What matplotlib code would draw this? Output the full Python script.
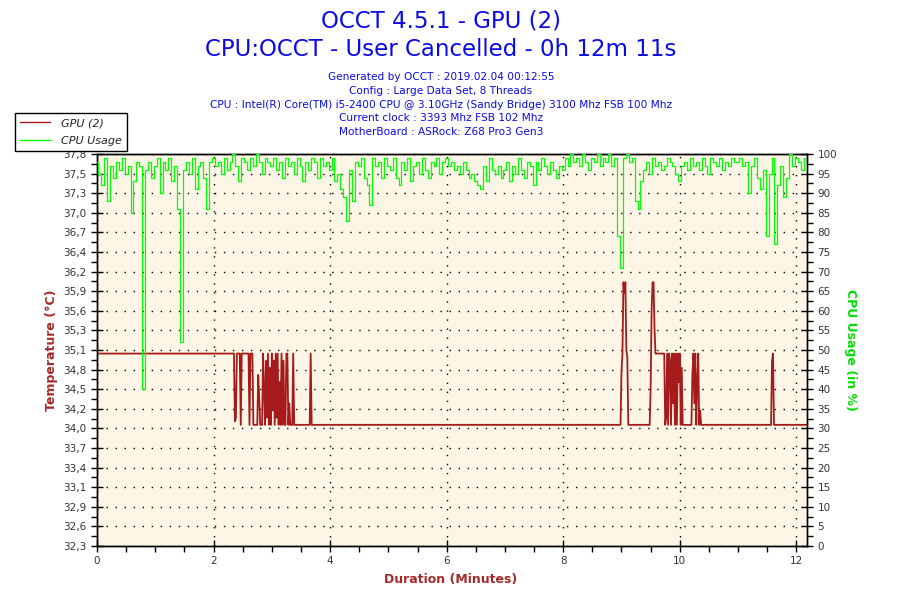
import numpy as np
import matplotlib
matplotlib.use("Agg")
import matplotlib.pyplot as plt
from matplotlib.lines import Line2D

# --- data ---
# GPU temperature: (seconds, degC) change points
temp_sec = [0, 141, 142, 143, 144, 147, 148, 149, 156, 157, 158, 160, 161, 165, 166, 167, 168,
            170, 171, 172, 173, 174, 175, 176, 177, 178, 179, 180, 181, 182, 183, 184, 185,
            186, 187, 188, 189, 190, 191, 192, 193, 194, 195, 196, 197, 198, 199, 201, 202,
            203, 219, 220, 221,
            539, 540, 541, 542, 543, 544, 545, 546, 547,
            569, 570, 571, 572, 573, 574, 575,
            584, 585, 586, 587, 588, 589, 590, 591, 592, 593, 594, 595, 596, 597, 598, 599,
            600, 601, 602, 603,
            612, 613, 614, 615, 616, 617, 618, 619, 620, 621, 622,
            694, 695, 696, 697, 731]
temp_val = [35.0, 35.0, 34.05, 34.1, 35.0, 35.0, 34.0, 35.0, 35.0, 34.0, 35.0, 35.0, 34.0, 34.0, 34.7, 34.4, 34.0,
            34.0, 35.0, 34.5, 34.0, 34.9, 34.1, 35.0, 34.0, 34.8, 34.0, 35.0, 34.2, 34.9, 34.0, 35.0, 34.1,
            35.0, 34.0, 34.6, 34.0, 35.0, 34.0, 34.9, 34.0, 34.0, 35.0, 35.0, 34.0, 34.3, 34.0, 34.0, 35.0,
            34.0, 34.0, 35.0, 34.0,
            34.0, 34.75, 35.0, 36.0, 35.85, 36.0, 35.05, 34.95, 34.0,
            34.0, 34.5, 35.6, 36.0, 36.0, 35.35, 35.0,
            35.0, 34.0, 34.1, 35.0, 34.0, 35.0, 34.9, 34.0, 35.0, 34.3, 35.0, 34.0, 35.0, 34.0, 35.0, 34.6,
            35.0, 34.0, 34.8, 34.0,
            34.0, 34.7, 35.0, 34.3, 35.0, 34.0, 34.6, 35.0, 34.0, 34.2, 34.0,
            34.0, 34.9, 35.0, 34.0, 34.0]

# CPU usage in %, one value every 3 seconds
cpu_step_sec = 3
cpu_usage = [
    98, 95, 92, 99, 88, 97, 94, 98, 96, 99, 95, 97, 85, 93, 98, 97, 40, 96, 98, 94,
    97, 99, 90, 98, 96, 99, 93, 97, 86, 52, 96, 98, 95, 99, 91, 97, 98, 94, 86, 98,
    99, 97, 98, 95, 99, 96, 98, 100, 97, 93, 99, 98, 96, 99, 97, 100, 98, 95, 99, 98,
    97, 99, 96, 98, 94, 99, 97, 98, 95, 99, 97, 93, 98, 96, 99, 98, 94, 99, 97, 98,
    96, 99, 93, 95, 91, 89, 83, 96, 88, 98, 97, 99, 94, 92, 87, 99, 97, 98, 94, 99,
    97, 96, 99, 94, 92, 98, 96, 99, 93, 97, 98, 95, 99, 96, 94, 98, 97, 99, 95, 98,
    99, 97, 98, 96, 97, 95, 98, 96, 94, 95, 93, 92, 91, 97, 93, 99, 96, 95, 97, 94,
    96, 98, 93, 97, 95, 99, 96, 94, 98, 97, 92, 98, 96, 99, 97, 95, 98, 96, 94, 97,
    96, 99, 97, 100, 98, 99, 97, 100, 98, 96, 99, 98, 100, 97, 99, 98, 100, 97, 99, 79,
    71, 99, 100, 98, 99, 88, 86, 93, 96, 98, 95, 99, 97, 98, 96, 97, 99, 98, 97, 95,
    93, 97, 98, 96, 99, 97, 98, 96, 99, 97, 95, 99, 98, 97, 99, 96, 98, 97, 99, 98,
    98, 99, 97, 98, 90, 97, 99, 94, 91, 96, 79, 95, 99, 77, 92, 97, 89, 94, 100, 97,
    99, 98, 96, 99,
]

temp_ticklabels = ['32,3', '32,6', '32,9', '33,1', '33,4', '33,7', '34,0', '34,2', '34,5', '34,8', '35,1',
                   '35,3', '35,6', '35,9', '36,2', '36,4', '36,7', '37,0', '37,3', '37,5', '37,8']
cpu_ticks = list(range(0, 101, 5))
minute_ticks = [0, 2, 4, 6, 8, 10, 12]

total_sec = 731
temp_min, temp_max = 32.3, 37.8

title1 = "OCCT 4.5.1 - GPU (2)"
title2 = "CPU:OCCT - User Cancelled - 0h 12m 11s"
info_lines = ["Generated by OCCT : 2019.02.04 00:12:55",
              "Config : Large Data Set, 8 Threads",
              "CPU : Intel(R) Core(TM) i5-2400 CPU @ 3.10GHz (Sandy Bridge) 3100 Mhz FSB 100 Mhz",
              "Current clock : 3393 Mhz FSB 102 Mhz",
              "MotherBoard : ASRock: Z68 Pro3 Gen3"]

temp_color = '#A51A1A'
cpu_color = '#00FF00'
label_red = '#A52A2A'
title_blue = '#0A0AE6'
tick_grey = '#333333'

# --- figure ---
fig = plt.figure(figsize=(9, 6), dpi=100)
ax = fig.add_axes([97/900, 54/600, 710/900, 392/600])
ax.set_facecolor('#FDF6E7')
ax2 = ax.twinx()

t_min = np.array(temp_sec) / 60.0
ax.plot(t_min, temp_val, color=temp_color, lw=1.3, zorder=3)

cpu_t = np.arange(len(cpu_usage)) * cpu_step_sec / 60.0
ax2.plot(cpu_t, cpu_usage, color=cpu_color, lw=0.9, drawstyle='steps-mid', zorder=3)

ax.set_xlim(0, total_sec / 60.0)
ax.set_ylim(temp_min, temp_max)
ax2.set_ylim(0, 100)

ax.set_yticks(np.linspace(temp_min, temp_max, len(temp_ticklabels)))
ax.set_yticklabels(temp_ticklabels)
ax.set_yticks(np.linspace(temp_min, temp_max, 2 * len(temp_ticklabels) - 1), minor=True)
ax2.set_yticks(cpu_ticks)
ax2.set_yticks(np.arange(0, 101, 2.5), minor=True)
ax.set_xticks(minute_ticks)
ax.set_xticks(np.arange(0, 12.01, 0.5), minor=True)

for a in (ax, ax2):
    a.tick_params(which='major', direction='inout', length=8, width=1, colors='black',
                  labelcolor=tick_grey, labelsize=7.5)
    a.tick_params(which='minor', direction='out', length=4, width=1, colors='black')
    for s in a.spines.values():
        s.set_color('black')
        s.set_linewidth(1)

ax.grid(True, which='major', color='black', linestyle=(0, (1, 5.5)), linewidth=1)
ax.set_axisbelow(True)

fig.text(52/900, 1 - 350/600, "Temperature (\u00b0C)", rotation=90, ha='center', va='center',
         color=label_red, fontsize=9, fontweight='bold')
fig.text(851/900, 1 - 350/600, "CPU Usage (in %)", rotation=270, ha='center', va='center',
         color='#00E000', fontsize=9, fontweight='bold')
fig.text(451/900, 1 - 579/600, "Duration (Minutes)", ha='center', va='center',
         color=label_red, fontsize=9, fontweight='bold')

fig.text(441/900, 1 - 21/600, title1, ha='center', va='center', color=title_blue, fontsize=16.5)
fig.text(441/900, 1 - 50/600, title2, ha='center', va='center', color=title_blue, fontsize=16.5)
for i, line in enumerate(info_lines):
    fig.text(441/900, 1 - (77 + 13.8 * i)/600, line, ha='center', va='center',
             color=title_blue, fontsize=7.6)

handles = [Line2D([], [], color=temp_color, lw=1), Line2D([], [], color=cpu_color, lw=1)]
leg = fig.legend(handles, ["GPU (2)", "CPU Usage"], loc='upper left',
                 bbox_to_anchor=(15/900, 1 - 113/600), borderaxespad=0, fancybox=False,
                 edgecolor='black', framealpha=1, prop={'style': 'italic', 'size': 8},
                 handlelength=2.7, handletextpad=1.0, labelspacing=0.75, borderpad=0.45)
leg.get_frame().set_linewidth(1)
for txt in leg.get_texts():
    txt.set_color('#222222')

fig.savefig('out.png', dpi=100)
